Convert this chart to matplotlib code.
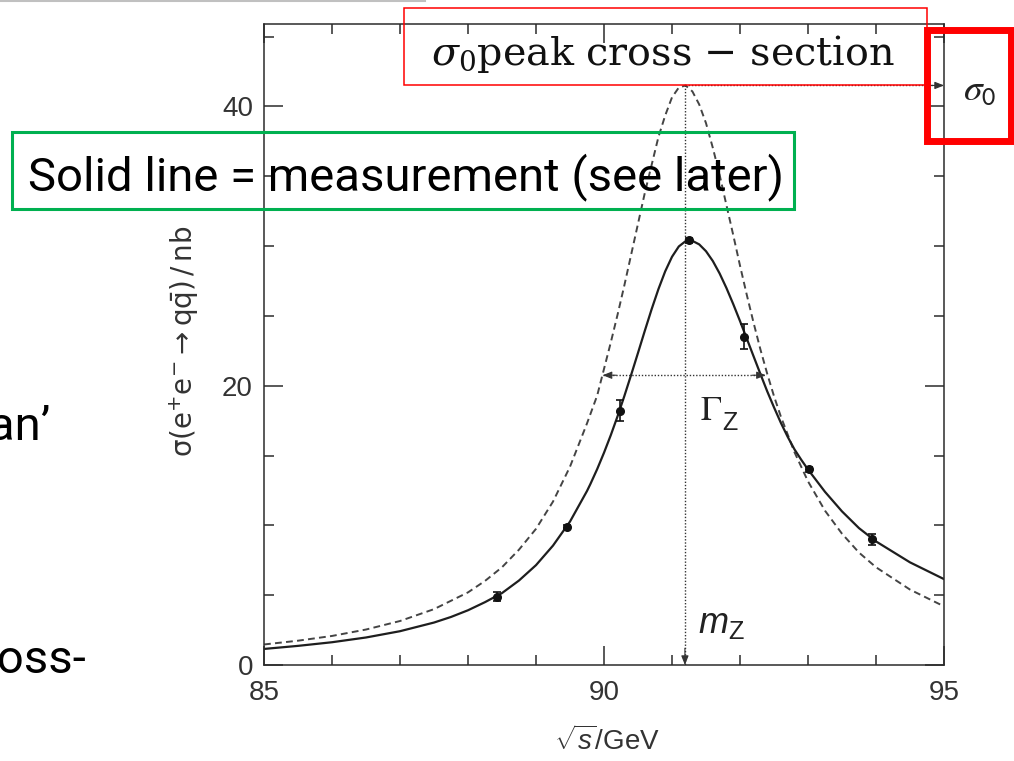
import numpy as np
import matplotlib
matplotlib.use("Agg")
import matplotlib.pyplot as plt
from matplotlib.patches import Rectangle
from matplotlib.lines import Line2D
from matplotlib.ticker import MultipleLocator

# Measured hadronic cross-section around the Z pole (GeV, nb)
sqrt_s = [88.43, 89.45, 90.24, 91.25, 92.06, 93.01, 93.94]
sigma_meas = [4.9, 9.9, 18.2, 30.4, 23.5, 14.0, 9.0]
sigma_err = [0.35, 0.15, 0.75, 0.15, 0.9, 0.2, 0.4]

# Fitted lineshape including radiation (solid)
e_fit = [85.0, 85.5, 86.0, 86.5, 87.0, 87.5, 87.75, 88.0, 88.25, 88.5, 88.75,
         89.0, 89.25, 89.5, 89.75, 89.8, 89.9, 90.0, 90.1, 90.2, 90.3, 90.4,
         90.5, 90.6, 90.7, 90.8, 90.9, 91.0, 91.1, 91.2, 91.25, 91.3, 91.4,
         91.5, 91.6, 91.7, 91.8, 91.9, 92.0, 92.1, 92.2, 92.3, 92.4, 92.5,
         92.6, 92.7, 92.8, 92.9, 93.0, 93.25, 93.5, 93.75, 94.0, 94.5, 95.0]
sigma_fit = [1.15, 1.37, 1.63, 1.97, 2.42, 3.04, 3.44, 3.92, 4.5, 5.15, 6.05,
             7.15, 8.55, 10.27, 12.46, 12.96, 14.03, 15.2, 16.46, 17.82, 19.27, 20.79,
             22.35, 23.93, 25.47, 26.91, 28.19, 29.23, 29.97, 30.35, 30.4, 30.37, 30.12,
             29.63, 28.93, 28.04, 27.0, 25.85, 24.63, 23.37, 22.1, 20.84, 19.6, 18.45,
             17.35, 16.35, 15.45, 14.7, 14.0, 12.4, 11.0, 9.8, 8.85, 7.35, 6.15]

# Bare Breit-Wigner (dashed)
e_bw = [85.0, 85.5, 86.0, 86.5, 87.0, 87.5, 88.0, 88.25, 88.5, 88.75, 89.0,
        89.25, 89.5, 89.75, 89.9, 90.0, 90.1, 90.2, 90.3, 90.4, 90.5, 90.6,
        90.7, 90.8, 90.9, 91.0, 91.1, 91.2, 91.3, 91.4, 91.5, 91.6, 91.7,
        91.8, 91.9, 92.0, 92.1, 92.2, 92.3, 92.4, 92.5, 92.6, 92.8, 93.0,
        93.25, 93.5, 93.75, 94.0, 94.5, 95.0]
sigma_bw = [1.47, 1.74, 2.08, 2.54, 3.15, 4.0, 5.2, 6.02, 7.0, 8.26, 9.75,
            11.7, 14.2, 17.3, 19.3, 21.2, 23.1, 25.1, 27.2, 29.4, 31.6, 33.8,
            35.8, 37.8, 39.35, 40.65, 41.35, 41.5, 41.07, 40.14, 38.8, 37.04, 35.1,
            32.94, 30.8, 28.6, 26.5, 24.5, 22.6, 20.86, 19.25, 17.8, 15.25, 13.15,
            11.05, 9.4, 8.05, 7.0, 5.4, 4.2]

m_z = 91.19
sigma_0 = 41.5
gamma_lo, gamma_hi = 89.98, 92.38

plt.rcParams["font.family"] = ["Liberation Sans", "DejaVu Sans"]
plt.rcParams["mathtext.fontset"] = "custom"
plt.rcParams["mathtext.rm"] = "Liberation Sans"
plt.rcParams["mathtext.it"] = "Liberation Sans:italic"
plt.rcParams["mathtext.bf"] = "Liberation Sans:bold"

W, H = 1014, 761
fig = plt.figure(figsize=(W / 100, H / 100), dpi=100)
ax = fig.add_axes([264 / W, 1 - 665 / H, 680 / W, 641 / H])

ink = "#2b2b2b"

# curves and points
ax.plot(e_bw, sigma_bw, color="#444444", lw=1.4, dashes=(3.5, 2.2))
ax.plot(e_fit, sigma_fit, color="#1e1e1e", lw=1.6)
ax.errorbar(sqrt_s, sigma_meas, yerr=sigma_err, fmt="o", ms=5.5, color="#111111",
            ecolor="#111111", elinewidth=1.2, capsize=3, capthick=1.2, zorder=5)

# dotted construction lines with arrowheads
dot = dict(color="#333333", lw=1.0, ls=(0, (1, 1.3)))
ax.plot([m_z, m_z], [sigma_0, 0], **dot)
ax.plot([gamma_lo, gamma_hi], [sigma_0 / 2, sigma_0 / 2], **dot)
ax.plot([m_z, 95], [sigma_0, sigma_0], **dot)
head = dict(arrowstyle="-|>,head_length=0.55,head_width=0.22", color="#333333",
            lw=0.8, shrinkA=0, shrinkB=0)
ax.annotate("", xy=(m_z, 0), xytext=(m_z, 1.2), arrowprops=head)
ax.annotate("", xy=(gamma_lo, sigma_0 / 2), xytext=(gamma_lo + 0.2, sigma_0 / 2), arrowprops=head)
ax.annotate("", xy=(gamma_hi, sigma_0 / 2), xytext=(gamma_hi - 0.2, sigma_0 / 2), arrowprops=head)
ax.annotate("", xy=(95, sigma_0), xytext=(94.8, sigma_0), arrowprops=head)

# labels on the marked quantities
ax.text(91.57, 18.2, r"$\Gamma$", math_fontfamily="stix", fontsize=25,
        ha="center", va="center", color="#222222")
ax.text(91.85, 17.3, "Z", fontsize=18, ha="center", va="center", color="#222222")
ax.text(91.72, 3.0, r"$m_{\mathrm{Z}}$", fontsize=26, ha="center", va="center", color="#222222")
ax.text(95.53, sigma_0 - 0.3, r"$\sigma_{\mathsf{0}}$", math_fontfamily="stix", fontsize=27,
        ha="center", va="center", color="#222222", clip_on=False)

# axes styling
ax.set_xlim(85, 95)
ax.set_ylim(0, 45.9)
ax.set_xticks([85, 90, 95])
ax.set_yticks([0, 20, 40])
ax.xaxis.set_minor_locator(MultipleLocator(1))
ax.yaxis.set_minor_locator(MultipleLocator(5))
ax.tick_params(which="both", direction="in", top=True, right=True, color=ink, width=1.1,
               labelsize=20, labelcolor="#333333")
ax.tick_params(which="major", length=14)
ax.tick_params(which="minor", length=7)
ax.tick_params(axis="x", pad=11)
ax.tick_params(axis="y", pad=8)
for sp in ax.spines.values():
    sp.set_color(ink)
    sp.set_linewidth(1.1)

ax.set_ylabel(r"$\mathrm{\sigma(e^{+}e^{-}\rightarrow q\bar{q})\,/\,nb}$", fontsize=20,
              color="#333333", math_fontfamily="dejavusans")
ax.yaxis.set_label_coords(-0.093, 0.505)
ax.set_xlabel(r"$\sqrt{s}/\mathrm{GeV}$", fontsize=20, color="#333333")
ax.xaxis.set_label_coords(0.504, -0.095)


def fx(px):
    return px / W


def fy(py):
    return 1 - py / H


def box(x0, y0, x1, y1, color, lw):
    fig.add_artist(Rectangle((fx(x0), fy(y1)), fx(x1) - fx(x0), fy(y0) - fy(y1),
                             transform=fig.transFigure, fill=False, edgecolor=color, lw=lw))


# slide annotations
fig.add_artist(Line2D([0, fx(425)], [fy(0.5), fy(0.5)], transform=fig.transFigure,
                      color="#c0c0c0", lw=1.5))
box(404, 8, 927, 85, "#ff0000", 1.1)
fig.text(fx(663), fy(65), r"$\sigma_0$peak cross $-$ section", family="DejaVu Serif",
         math_fontfamily="dejavuserif", fontsize=28.5, ha="center", va="baseline", color="#111111")
box(926.5, 30.5, 1010.5, 140.5, "#ff0000", 5)
box(11.5, 131.5, 794, 208.5, "#00b050", 2.2)
fig.text(fx(406), fy(190), "Solid line = measurement (see later)", family="Roboto",
         fontsize=34, ha="center", va="baseline", color="#000000")
fig.text(fx(50), fy(440), "Lorentzian\u2019", family="Roboto", fontsize=34,
         ha="right", va="baseline", color="#000000")
fig.text(fx(87), fy(673), "cross-", family="Roboto", fontsize=34,
         ha="right", va="baseline", color="#000000")

fig.savefig("out.png", dpi=100)
